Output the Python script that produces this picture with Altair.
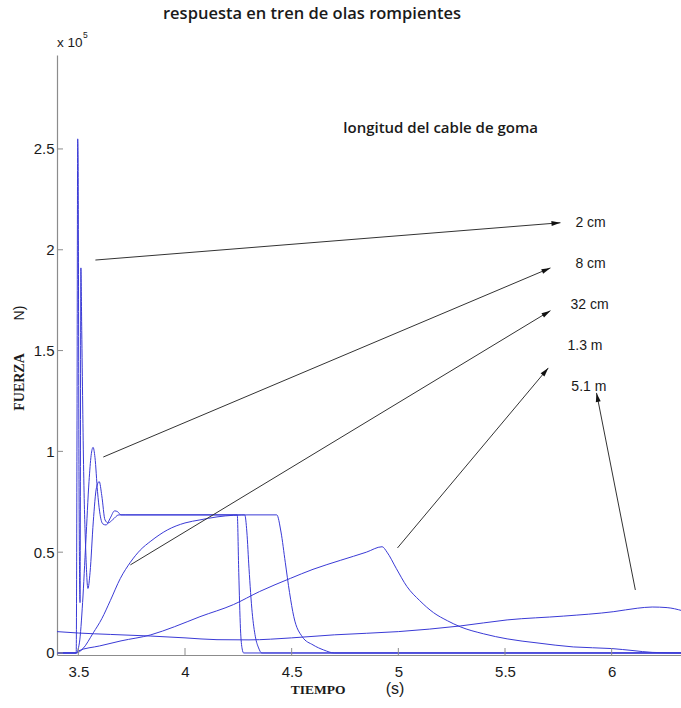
import math
import altair as alt
import pandas as pd

# ---------------- data (time in s, force in units of 1e5 N) ----------------
series_names = ["2 cm", "8 cm", "32 cm", "1.3 m", "5.1 m"]

t_2cm = [3.40, 3.490, 3.494, 3.497, 3.499, 3.503, 3.508, 3.512, 3.516, 3.525, 3.535,
         3.545, 3.555, 3.570, 3.585, 3.598, 3.610, 3.625, 3.640, 3.660, 3.690, 3.720,
         4.245, 4.252, 4.260, 4.268, 4.275, 6.33]
f_2cm = [0.0, 0.0, 1.20, 2.55, 2.45, 0.90, 0.25, 1.91, 1.60, 0.90, 0.50,
         0.32, 0.40, 0.65, 0.82, 0.85, 0.78, 0.66, 0.645, 0.66, 0.685, 0.685,
         0.685, 0.40, 0.12, 0.02, 0.0, 0.0]

t_8cm = [3.40, 3.490, 3.505, 3.520, 3.535, 3.550, 3.560, 3.569, 3.578, 3.590, 3.600,
         3.615, 3.630, 3.650, 3.670, 3.685, 3.700, 4.280, 4.290, 4.300, 4.315,
         4.330, 4.345, 4.360, 6.33]
f_8cm = [0.0, 0.0, 0.05, 0.25, 0.55, 0.85, 0.98, 1.02, 0.97, 0.80, 0.70,
         0.64, 0.635, 0.67, 0.705, 0.70, 0.685, 0.685, 0.60, 0.42, 0.20,
         0.08, 0.025, 0.0, 0.0]

t_32cm = [3.40, 3.49, 3.52, 3.57, 3.61, 3.65, 3.697, 3.744, 3.79, 3.84, 3.917, 4.00,
          4.07, 4.15, 4.227, 4.30, 4.43, 4.45, 4.47, 4.49, 4.51, 4.55, 4.60, 4.65,
          4.70, 6.33]
f_32cm = [0.0, 0.0, 0.02, 0.10, 0.17, 0.26, 0.37, 0.45, 0.51, 0.555, 0.61, 0.645,
          0.66, 0.675, 0.683, 0.685, 0.685, 0.60, 0.45, 0.30, 0.18, 0.08, 0.04, 0.015,
          0.0, 0.0]

t_13m = [3.40, 3.49, 3.50, 3.60, 3.70, 3.84, 3.95, 4.07, 4.227, 4.35, 4.494, 4.60,
         4.73, 4.85, 4.924, 4.947, 4.99, 5.04, 5.10, 5.165, 5.23, 5.29, 5.40, 5.51,
         5.65, 5.82, 6.00, 6.10, 6.19, 6.33]
f_13m = [0.0, 0.0, 0.01, 0.035, 0.06, 0.09, 0.13, 0.18, 0.24, 0.305, 0.37, 0.415,
         0.46, 0.50, 0.527, 0.50, 0.42, 0.33, 0.26, 0.20, 0.16, 0.13, 0.095, 0.07,
         0.05, 0.03, 0.022, 0.012, 0.003, 0.0]

t_51m = [3.40, 3.50, 3.65, 3.84, 4.00, 4.15, 4.30, 4.50, 4.70, 5.00, 5.29, 5.51,
         5.775, 6.01, 6.12, 6.19, 6.26, 6.33]
f_51m = [0.106, 0.099, 0.092, 0.084, 0.075, 0.066, 0.065, 0.075, 0.09, 0.106, 0.134,
         0.164, 0.183, 0.205, 0.222, 0.228, 0.225, 0.21]

series_t = [t_2cm, t_8cm, t_32cm, t_13m, t_51m]
series_f = [f_2cm, f_8cm, f_32cm, f_13m, f_51m]

# annotation arrows (data coordinates)
arrow_x0 = [3.580, 3.617, 3.744, 4.996, 6.111]
arrow_y0 = [1.949, 0.972, 0.437, 0.521, 0.3125]
arrow_x1 = [5.760, 5.713, 5.713, 5.703, 5.929]
arrow_y1 = [2.134, 1.910, 1.698, 1.414, 1.290]

label_text = ["2 cm", "8 cm", "32 cm", "1.3 m", "5.1 m"]
label_x = [5.830, 5.830, 5.807, 5.793, 5.811]
label_y = [2.133, 1.930, 1.726, 1.523, 1.319]

legend_title = "longitud del cable de goma"
legend_title_x = [4.742]
legend_title_y = [2.604]

x_ticks = [3.5, 4, 4.5, 5, 5.5, 6]
y_ticks = [0, 0.5, 1, 1.5, 2, 2.5]

X_DOMAIN = [3.4, 6.325]
Y_DOMAIN = [-0.01, 2.966]
W, H = 624, 600

BLUE = "#3a3ad6"
GREY = "#8c8c8c"
INK = "#1a1a1a"

# ---------------- tables ----------------
rows = []
for name, ts, fs in zip(series_names, series_t, series_f):
    for i, (t, f) in enumerate(zip(ts, fs)):
        rows.append({"serie": name, "t": t, "f": f, "i": i})
df = pd.DataFrame(rows)

sx = W / (X_DOMAIN[1] - X_DOMAIN[0])
sy = H / (Y_DOMAIN[1] - Y_DOMAIN[0])
angles = []
for x0, y0, x1, y1 in zip(arrow_x0, arrow_y0, arrow_x1, arrow_y1):
    a = math.degrees(math.atan2((x1 - x0) * sx, (y1 - y0) * sy)) % 360
    angles.append(a)
arrows = pd.DataFrame({"x0": arrow_x0, "y0": arrow_y0, "x1": arrow_x1,
                       "y1": arrow_y1, "ang": angles})
labels = pd.DataFrame({"txt": label_text, "x": label_x, "y": label_y})

xs = alt.Scale(domain=X_DOMAIN, nice=False, zero=False)
ys = alt.Scale(domain=Y_DOMAIN, nice=False, zero=False)

lines = alt.Chart(df).mark_line(color=BLUE, strokeWidth=1, clip=True,
                                interpolate="monotone").encode(
    x=alt.X("t:Q", scale=xs, title="",
            axis=alt.Axis(values=x_ticks, format="~g", labelPadding=9)),
    y=alt.Y("f:Q", scale=ys, title="",
            axis=alt.Axis(values=y_ticks, format="~g", labelPadding=3)),
    detail="serie:N",
    order="i:Q",
)

xtick_layer = alt.Chart(pd.DataFrame({"v": x_ticks})).mark_rule(
    color=GREY, strokeWidth=1).encode(
    x=alt.X("v:Q", scale=xs), y=alt.value(H), y2=alt.value(H - 7))
ytick_layer = alt.Chart(pd.DataFrame({"v": y_ticks})).mark_rule(
    color=GREY, strokeWidth=1).encode(
    y=alt.Y("v:Q", scale=ys), x=alt.value(0), x2=alt.value(6))

arrow_lines = alt.Chart(arrows).mark_rule(color="#333333", strokeWidth=1).encode(
    x=alt.X("x0:Q", scale=xs), y=alt.Y("y0:Q", scale=ys),
    x2="x1:Q", y2="y1:Q")
arrow_heads = alt.Chart(arrows).mark_point(
    shape="M0,0L0.55,2L-0.55,2Z", filled=True, color="#111111", size=81,
    opacity=1, strokeWidth=0).encode(
    x=alt.X("x1:Q", scale=xs), y=alt.Y("y1:Q", scale=ys),
    angle=alt.Angle("ang:Q", scale=None))

label_layer = alt.Chart(labels).mark_text(
    font="Liberation Sans", fontSize=14, align="left", baseline="middle",
    color=INK).encode(
    x=alt.X("x:Q", scale=xs), y=alt.Y("y:Q", scale=ys), text="txt:N")

legend_layer = alt.Chart(pd.DataFrame({"txt": [legend_title], "x": legend_title_x,
                                       "y": legend_title_y})).mark_text(
    font="Open Sans", fontSize=15, fontWeight=600, align="left",
    baseline="middle", color=INK).encode(
    x=alt.X("x:Q", scale=xs), y=alt.Y("y:Q", scale=ys), text="txt:N")


def free_text(txt, x, y, **kw):
    return alt.Chart(pd.DataFrame({"s": [txt]})).mark_text(**kw).encode(
        text="s:N", x=alt.value(x), y=alt.value(y))


title_t = free_text("respuesta en tren de olas rompientes", 255, -41,
                    font="Open Sans", fontSize=16.5, fontWeight=600,
                    align="center", baseline="middle", color=INK)
exp_a = free_text("x 10", 0, -12, font="Liberation Sans", fontSize=13.5,
                  align="left", baseline="middle", color=INK)
exp_b = free_text("5", 26, -20, font="Liberation Sans", fontSize=8.5,
                  align="left", baseline="middle", color=INK)
ytitle_a = free_text("FUERZA", -37, 327, font="Liberation Serif", fontSize=14,
                     fontWeight="bold", angle=270, align="center",
                     baseline="middle", color=INK)
ytitle_b = free_text("N)", -37, 258, font="Liberation Sans", fontSize=14,
                     angle=270, align="center", baseline="middle", color=INK)
xtitle_a = free_text("TIEMPO", 261, 635, font="Liberation Serif", fontSize=13.5,
                     fontWeight="bold", align="center", baseline="middle",
                     color=INK)
xtitle_b = free_text("(s)", 338, 634, font="Liberation Sans", fontSize=16,
                     align="center", baseline="middle", color=INK)

chart = alt.layer(
    lines, xtick_layer, ytick_layer, arrow_lines, arrow_heads, label_layer,
    legend_layer, title_t, exp_a, exp_b, ytitle_a, ytitle_b, xtitle_a, xtitle_b,
).properties(
    width=W, height=H,
    autosize=alt.AutoSizeParams(type="none"),
    padding={"left": 57, "top": 55, "right": 0, "bottom": 53},
    background="white",
).configure_view(stroke=None).configure_axis(
    grid=False, ticks=False, domainColor=GREY, domainWidth=1.2,
    labelFont="Liberation Sans", labelFontSize=15, labelColor=INK,
)

chart.save("out.html", embed_options={"renderer": "svg", "actions": False})
